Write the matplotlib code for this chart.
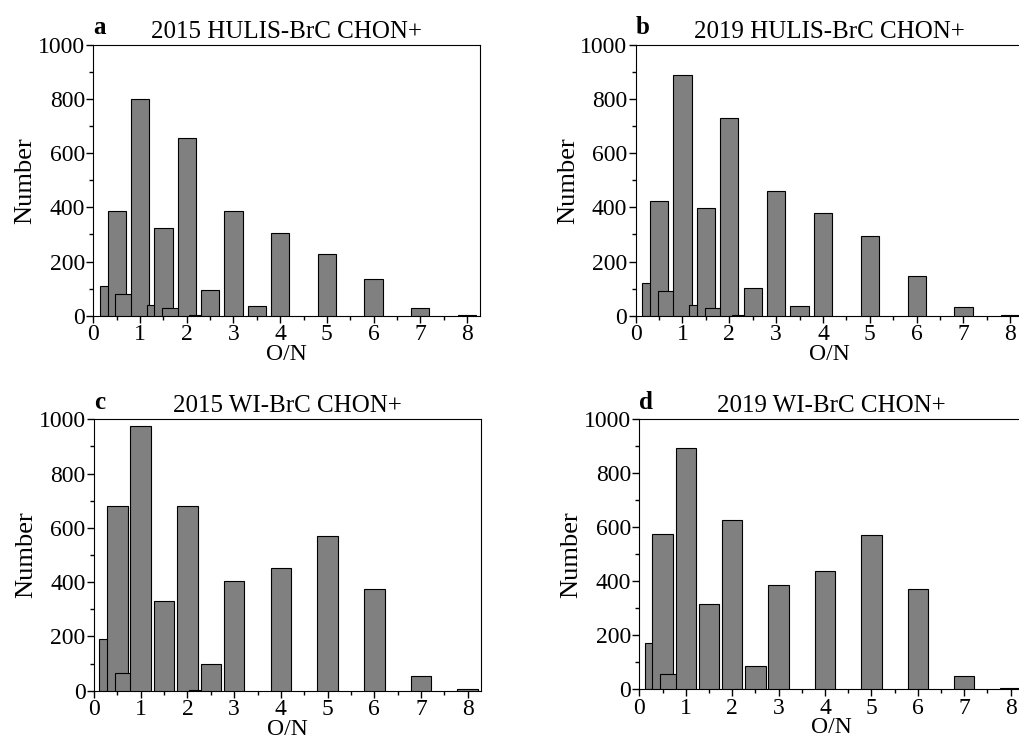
import matplotlib
matplotlib.use('Agg')
import matplotlib.pyplot as plt
from matplotlib.ticker import MultipleLocator

plt.rcParams['font.family'] = ['Liberation Serif', 'DejaVu Serif']

# O/N ratio positions of the bars
on_ratio = [1/3, 0.5, 2/3, 1, 4/3, 1.5, 5/3, 2, 2.25, 2.5, 3, 3.5, 4, 5, 6, 7, 8]

hulis_2015 = [110, 385, 80, 800, 39, 325, 27, 655, 3, 94, 388, 36, 307, 229, 134, 27, 3]
hulis_2019 = [119, 422, 93, 887, 39, 396, 27, 729, 4, 101, 461, 36, 380, 293, 147, 33, 3]
wi_2015 = [189, 682, 64, 977, 0, 329, 0, 679, 3, 97, 406, 0, 454, 571, 374, 53, 5]
wi_2019 = [172, 574, 55, 893, 0, 316, 0, 627, 3, 88, 387, 0, 440, 572, 372, 50, 5]

letters = ['a', 'b', 'c', 'd']
titles = ['2015 HULIS-BrC CHON+', '2019 HULIS-BrC CHON+',
          '2015 WI-BrC CHON+', '2019 WI-BrC CHON+']
series = [hulis_2015, hulis_2019, wi_2015, wi_2019]
widths = [0.39, 0.39, 0.44, 0.44]
boxes = [[0.0915, 0.5745, 0.3794, 0.3652],
         [0.6232, 0.5745, 0.3804, 0.3652],
         [0.0922, 0.0691, 0.3794, 0.3658],
         [0.6268, 0.0710, 0.3770, 0.3639]]

fig = plt.figure(figsize=(10.2, 7.42), dpi=100)

for box, vals, letter, title, w in zip(boxes, series, letters, titles, widths):
    ax = fig.add_axes(box)
    for i, (x, v) in enumerate(zip(on_ratio, vals)):
        if v > 0:
            ax.bar(x, v, width=w, color='#808080', edgecolor='black',
                   linewidth=0.8, zorder=2 + i)
    ax.set_xlim(0, 8.285)
    ax.set_ylim(0, 1000)
    ax.xaxis.set_major_locator(MultipleLocator(1))
    ax.xaxis.set_minor_locator(MultipleLocator(0.5))
    ax.yaxis.set_major_locator(MultipleLocator(200))
    ax.yaxis.set_minor_locator(MultipleLocator(100))
    ax.tick_params(which='both', direction='out', top=False, right=False,
                   labelsize=17, width=1)
    ax.tick_params(which='major', length=5, pad=1)
    ax.tick_params(which='minor', length=3)
    ax.set_xlabel('O/N', fontsize=17, labelpad=-1)
    ax.set_ylabel('Number', fontsize=19, labelpad=1)
    ax.set_title(title, fontsize=18, pad=5)
    ax.text(0.0, 1.02, letter, transform=ax.transAxes, fontsize=18,
            fontweight='bold', ha='left', va='bottom')

fig.savefig('out.png', dpi=100)
